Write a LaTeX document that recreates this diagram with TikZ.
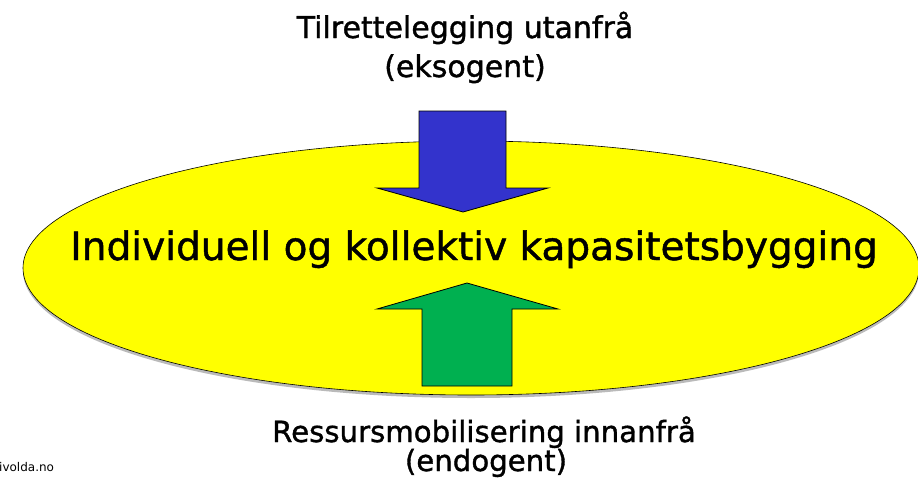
\documentclass[tikz,border=0pt]{standalone}
\usepackage{fontspec}
\setmainfont{DejaVu Sans}
\newfontfamily\heavyfont[FakeBold=1.2]{DejaVu Sans}
\definecolor{ellyellow}{HTML}{FFFF00}
\definecolor{arrblue}{HTML}{3333CC}
\definecolor{arrgreen}{HTML}{00B050}
\begin{document}
\begin{tikzpicture}[x=1pt,y=-1pt,
  lbl/.style={font=\heavyfont\fontsize{30}{34}\selectfont, align=center, inner sep=0pt},
  botlbl/.style={font=\heavyfont\fontsize{29.2}{34}\selectfont, align=center, inner sep=0pt},
  mainlbl/.style={font=\heavyfont\fontsize{39}{44}\selectfont, inner sep=0pt},
  blockarrow/.style={draw=black, line width=0.8pt, line join=miter}]
\useasboundingbox (0,0) rectangle (918,477);
\clip (0,0) rectangle (918,477);
% shadow and ellipse
\fill[black!45, opacity=0.6] (471,271) ellipse [x radius=448, y radius=127];
\draw[fill=ellyellow, line width=0.6pt] (471,268) ellipse [x radius=448, y radius=127];
% blue arrow (down)
\draw[blockarrow, fill=arrblue] (419,111) -- (506,111) -- (506,188) -- (548,188)
  -- (463,212) -- (377,188) -- (419,188) -- cycle;
% green arrow (up)
\draw[blockarrow, fill=arrgreen] (422,386) -- (512,386) -- (512,309) -- (558,309)
  -- (467,283) -- (377,309) -- (422,309) -- cycle;
% texts
\node[mainlbl, anchor=base] (main) at (474,260) {Individuell og kollektiv kapasitetsbygging};
\node[lbl, anchor=base] (top1) at (465,38) {Tilrettelegging utanfrå};
\node[lbl, anchor=base] (top2) at (465,77) {(eksogent)};
\node[botlbl, anchor=base] (bot1) at (484,442) {Ressursmobilisering innanfrå};
\node[botlbl, anchor=base] (bot2) at (486,471) {(endogent)};
\node[font=\fontsize{12}{14}\selectfont, anchor=base west, inner sep=0pt] (src) at (-1,471) {ivolda.no};
\end{tikzpicture}
\end{document}
